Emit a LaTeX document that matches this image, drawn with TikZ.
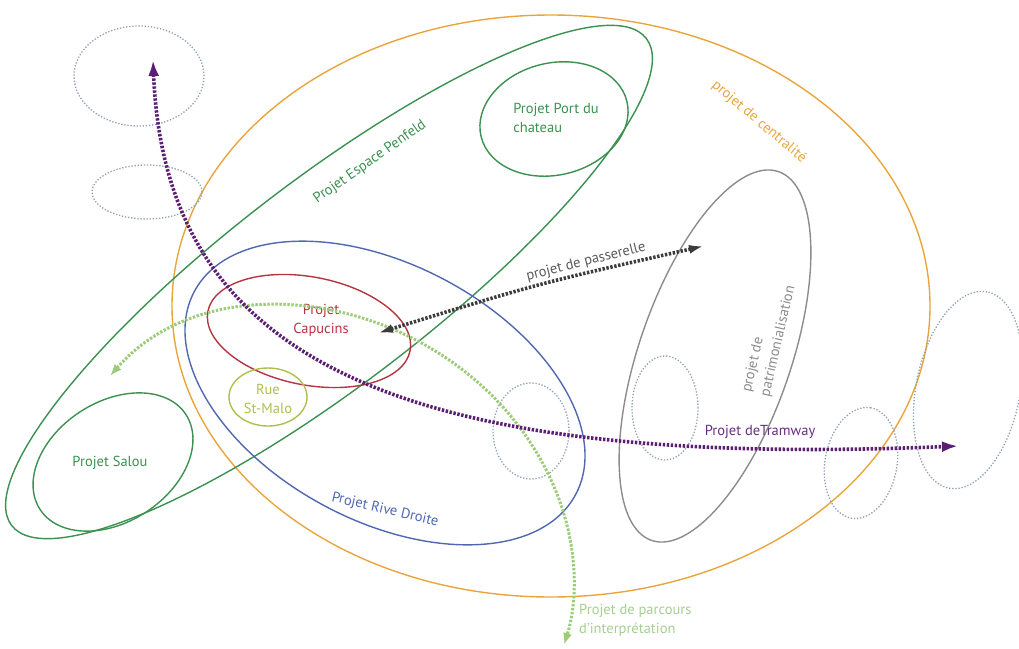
\documentclass[tikz,border=0pt]{standalone}
\usepackage{fontspec}
\setmainfont{PT Sans}
\usetikzlibrary{arrows.meta}

\definecolor{centre}{HTML}{E9A53C}
\definecolor{penfeld}{HTML}{3B9150}
\definecolor{rive}{HTML}{5068B0}
\definecolor{capucins}{HTML}{B5353F}
\definecolor{malo}{HTML}{AEBF4A}
\definecolor{patri}{HTML}{8C8C8C}
\definecolor{ghost}{HTML}{8EA0B4}
\definecolor{tram}{HTML}{5B1E73}
\definecolor{tramtxt}{HTML}{6A2D85}
\definecolor{passe}{HTML}{3C3C3C}
\definecolor{passetxt}{HTML}{5A5A5A}
\definecolor{parcours}{HTML}{9CCB7A}
\definecolor{parcourstxt}{HTML}{A5CF90}

\begin{document}
\begin{tikzpicture}[x=1pt, y=-1pt,
  zone/.style={line width=1.4pt},
  ghostzone/.style={draw=ghost, line width=1.3pt, dash pattern=on 1.3pt off 1.8pt},
  trail/.style={line width=3.6pt, dash pattern=on 2.4pt off 1.6pt},
  label/.style={font=\fontsize{14.5}{19}\selectfont, align=center, inner sep=1pt}
]
    \useasboundingbox (0,0) rectangle (1019,648);

    % zones
    \draw[zone, centre] (551,306) ellipse [x radius=379pt, y radius=291pt];
    \draw[zone, penfeld, rotate around={37.5:(329,282)}] (329,282) ellipse [x radius=400pt, y radius=102pt];
    \draw[zone, penfeld, rotate around={13.5:(554,119)}] (554,119) ellipse [x radius=75pt, y radius=56pt];
    \draw[zone, penfeld, rotate around={33:(113,462)}] (113,462) ellipse [x radius=87pt, y radius=60pt];
    \draw[zone, rive, rotate around={-28:(385,393)}] (385,393) ellipse [x radius=216pt, y radius=128pt];
    \draw[zone, capucins, rotate around={-11:(309,331)}] (309,331) ellipse [x radius=103pt, y radius=54pt];
    \draw[zone, malo] (268,397) ellipse [x radius=39pt, y radius=29pt];
    \draw[zone, patri, rotate around={71:(715,356)}] (715,356) ellipse [x radius=195pt, y radius=76pt];

    % dotted zones
    \draw[ghostzone] (139,76) ellipse [x radius=65pt, y radius=50pt];
    \draw[ghostzone] (147,192) ellipse [x radius=55pt, y radius=27pt];
    \draw[ghostzone] (531,431) ellipse [x radius=38pt, y radius=48pt];
    \draw[ghostzone] (665,408) ellipse [x radius=33pt, y radius=52pt];
    \draw[ghostzone, rotate around={80:(861,463)}] (861,463) ellipse [x radius=56pt, y radius=36pt];
    \draw[ghostzone, rotate around={79:(968,390)}] (968,390) ellipse [x radius=100pt, y radius=52pt];

    % labels
    \node[label, centre, rotate=-40] (centretxt) at (759,122) {projet de centralité};
    \node[label, penfeld, rotate=35] (penfeldtxt) at (370,162) {Projet Espace Penfeld};
    \node[label, penfeld, align=left] (porttxt) at (556,118) {Projet Port du\\chateau};
    \node[label, penfeld] (saloutxt) at (110,463) {Projet Salou};
    \node[label, capucins] (capucinstxt) at (321,320) {Projet\\Capucins};
    \node[label, malo] (malotxt) at (268,399) {Rue\\St-Malo};
    \node[label, rive, rotate=-13] (rivetxt) at (385,510) {Projet Rive Droite};
    \node[label, patri, align=left, rotate=77] (patritxt) at (769,339) {projet de\\patrimonialisation};
    \node[label, passetxt, rotate=14] (passetxt) at (586,262) {projet de passerelle};
    \node[label, tramtxt] (tramtxt) at (760,432) {Projet deTramway};
    \node[label, parcourstxt, align=left, anchor=west] (parcourstxt) at (578,620) {Projet de parcours\\d'interprétation};

    % free ends of the paths
    \coordinate (parcW) at (110,376);
    \coordinate (parcS) at (564,645);
    \coordinate (pasW) at (378,333);
    \coordinate (pasE) at (704,246);
    \coordinate (tramN) at (153,60);
    \coordinate (tramE) at (958,446);

    % paths
    \draw[trail, parcours, line width=3pt, {Latex[length=12pt,width=9pt]}-{Latex[length=12pt,width=9pt]}]
      (parcW) .. controls (220,250) and (470,300) .. (552,482)
      .. controls (579,542) and (578,600) .. (parcS);
    \draw[trail, passe, {Latex[length=15pt,width=9pt]}-{Latex[length=15pt,width=9pt]}]
      (pasW) .. controls (540,283) .. (pasE);
    \draw[trail, tram, {Latex[length=16pt,width=11pt]}-{Latex[length=16pt,width=11pt]}]
      (tramN) .. controls (165,350) and (380,470) .. (tramE);
\end{tikzpicture}
\end{document}
